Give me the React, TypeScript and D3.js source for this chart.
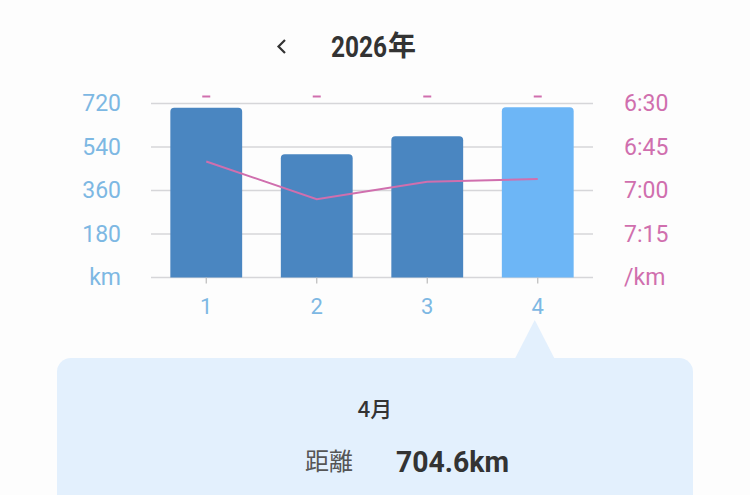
import React from 'react';
import { scaleBand, scaleLinear, line } from 'd3';

const width = 750;
const height = 495;

// monthly totals for the year
const months = ['1', '2', '3', '4'];
const distanceKm = [702, 510, 584, 704.6];
const paceSec = [410, 423, 417, 416];

const kmTicks = [180, 360, 540, 720];
const paceTicks = [390, 405, 420, 435];
const selected = 3;

const plot = { left: 151, right: 593, top: 103.5, bottom: 277.5 };

const blue = '#4a86c1';
const blueSel = '#6db6f6';
const leftColor = '#7db8e3';
const pink = '#d06fae';
const grid = '#d6d6d9';
const numFont = 'Roboto, "Noto Sans", sans-serif';
const cjkFont = '"Noto Sans CJK JP", sans-serif';

const fmtPace = (s: number) => `${Math.floor(s / 60)}:${String(Math.round(s % 60)).padStart(2, '0')}`;

function topRounded(x: number, y: number, w: number, h: number, r: number) {
  return `M${x},${y + h}V${y + r}Q${x},${y} ${x + r},${y}H${x + w - r}Q${x + w},${y} ${x + w},${y + r}V${y + h}Z`;
}

function App() {
  const xScale = scaleBand<string>()
    .domain(months)
    .range([plot.left, plot.right])
    .paddingInner(0.35)
    .paddingOuter(0.175);

  const yScale = scaleLinear().domain([0, 720]).range([plot.bottom, plot.top]);
  const paceScale = scaleLinear().domain([390, 450]).range([plot.top, plot.bottom]);

  const cx = (m: string) => xScale(m)! + xScale.bandwidth() / 2;

  const paceLine = line<number>()
    .x((_, i) => cx(months[i]))
    .y(d => paceScale(d));

  const tipX = cx(months[selected]) - 3;

  return (
    <svg width={width} height={height} style={{ position: 'absolute', left: 0, top: 0, background: '#fdfdfd' }}>
      {/* header */}
      <path d="M285,40L278.5,46.5L285,53" fill="none" stroke="#333" strokeWidth={2.2} />
      <text x={331} y={56.5} fontFamily={numFont} fontSize={30} fontWeight={700} fill="#333" textLength={56} lengthAdjust="spacingAndGlyphs">2026</text>
      <text x={388} y={56} fontFamily={cjkFont} fontSize={28} fontWeight={700} fill="#333">年</text>

      {/* grid */}
      {[0, ...kmTicks].map(t => (
        <line key={t} x1={plot.left} x2={plot.right} y1={yScale(t)} y2={yScale(t)} stroke={grid} strokeWidth={1.5} />
      ))}

      {/* left axis */}
      {kmTicks.map(t => (
        <text key={t} x={121} y={yScale(t)} textAnchor="end" dominantBaseline="central" fontFamily={numFont} fontSize={23} fill={leftColor}>{t}</text>
      ))}
      <text x={121} y={yScale(0)} textAnchor="end" dominantBaseline="central" fontFamily={numFont} fontSize={23} fill={leftColor}>km</text>

      {/* right axis */}
      {paceTicks.map(t => (
        <text key={t} x={624} y={paceScale(t)} dominantBaseline="central" fontFamily={numFont} fontSize={23} fill={pink}>{fmtPace(t)}</text>
      ))}
      <text x={624} y={paceScale(450)} dominantBaseline="central" fontFamily={numFont} fontSize={23} fill={pink}>/km</text>

      {/* bars */}
      {months.map((m, i) => {
        const y = yScale(distanceKm[i]);
        return (
          <path key={m} d={topRounded(xScale(m)!, y, xScale.bandwidth(), plot.bottom - y, 4)} fill={i === selected ? blueSel : blue} />
        );
      })}

      {/* dash markers above bars */}
      {months.map(m => (
        <line key={m} x1={cx(m) - 4} x2={cx(m) + 4} y1={96.5} y2={96.5} stroke={pink} strokeWidth={2} />
      ))}

      {/* x ticks and labels */}
      {months.map(m => (
        <g key={m}>
          <line x1={cx(m)} x2={cx(m)} y1={plot.bottom} y2={plot.bottom + 6} stroke="#bbb" strokeWidth={1.2} />
          <text x={cx(m)} y={306} textAnchor="middle" dominantBaseline="central" fontFamily={numFont} fontSize={22} fill={leftColor}>{m}</text>
        </g>
      ))}

      {/* pace line */}
      <path d={paceLine(paceSec)!} fill="none" stroke={pink} strokeWidth={2} />

      {/* tooltip */}
      <path d={`M${tipX - 20},359L${tipX},320L${tipX + 20},359Z`} fill="#e3f0fd" />
      <rect x={57} y={358} width={636} height={200} rx={14} fill="#e3f0fd" />
      <text x={375} y={407} textAnchor="middle" dominantBaseline="central" fontFamily={cjkFont} fontSize={22} fontWeight={500} fill="#333">{months[selected]}月</text>
      <text x={305} y={470} fontFamily={cjkFont} fontSize={24} fill="#555">距離</text>
      <text x={396} y={472} fontFamily={numFont} fontSize={30} fontWeight={700} fill="#333" textLength={113} lengthAdjust="spacingAndGlyphs">{distanceKm[selected]}km</text>
      <text x={396} y={518} fontFamily={numFont} fontSize={30} fontWeight={700} fill="#333">{fmtPace(paceSec[selected])}/km</text>
    </svg>
  );
}

export default App;
